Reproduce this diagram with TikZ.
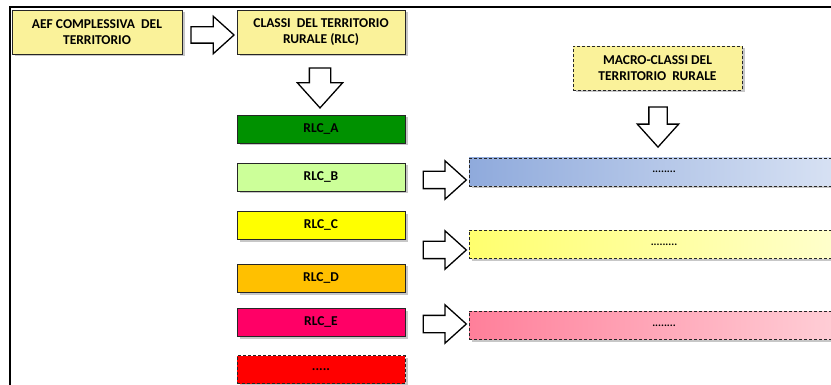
\documentclass[tikz,border=0pt]{standalone}
\usepackage{fontspec}
\setmainfont{Carlito}
\usetikzlibrary{shapes.arrows,shadows}
\definecolor{boxyellow}{HTML}{FAF29A}
\definecolor{rlcA}{HTML}{009100}
\definecolor{rlcB}{HTML}{CCFF99}
\definecolor{rlcC}{HTML}{FFFF00}
\definecolor{rlcD}{HTML}{FFC000}
\definecolor{rlcE}{HTML}{FF0066}
\definecolor{rlcX}{HTML}{FF0000}
\definecolor{blueL}{HTML}{8FAADC}
\definecolor{blueR}{HTML}{DCE5F5}
\definecolor{yelL}{HTML}{FFFF6E}
\definecolor{yelR}{HTML}{FFFFD2}
\definecolor{pinkL}{HTML}{FF7F9A}
\definecolor{pinkR}{HTML}{FFD3DA}

\begin{document}
\begin{tikzpicture}[x=1pt,y=-1pt,font=\bfseries\fontsize{13.5}{16}\selectfont,
  box/.style={draw=black!85,line width=0.8pt,align=center,inner sep=0pt,
    drop shadow={shadow xshift=2.5pt,shadow yshift=-2.5pt,fill=black!22,opacity=1}},
  titlebox/.style={box,fill=boxyellow,minimum width=169,minimum height=44},
  rlcbox/.style={box,minimum width=168,minimum height=28},
  macbox/.style={box,dash pattern=on 3pt off 2pt,minimum width=390,minimum height=28,
    font=\bfseries\fontsize{11}{12}\selectfont},
  blockarrow/.style={single arrow,draw=black,line width=1.3pt,fill=white,
    inner sep=0pt,minimum width=0pt,single arrow tip angle=84}]
  \clip (0,0) rectangle (831,385);
  \draw[line width=2pt] (9.5,385) -- (9.5,7) -- (831,7);

  % top row
  \node[titlebox,minimum width=170] (aef) at (97,32) {AEF COMPLESSIVA\ \ DEL\\TERRITORIO};
  \node[titlebox,minimum width=168] (cls) at (321,32) {CLASSI\ \ DEL TERRITORIO\\RURALE (RLC)};
  \node[titlebox,dash pattern=on 3pt off 2pt] (mac) at (657.5,68) {MACRO-CLASSI DEL\\TERRITORIO\ \ RURALE};

  % classes
  \foreach \n/\y/\c/\t in {A/129/rlcA/RLC\_A,B/177/rlcB/RLC\_B,C/225.5/rlcC/RLC\_C,
                           D/278/rlcD/RLC\_D,E/322/rlcE/RLC\_E} {
    \node[rlcbox,fill=\c] (rlc\n) at (321,\y) {\t};
  }
  \node[rlcbox,fill=rlcX,dash pattern=on 3pt off 2pt] (rlcX) at (321,369.5) {.....};

  % macro classes
  \node[macbox,left color=blueL,right color=blueR] (macB) at (664,172) {........};
  \node[macbox,left color=yelL,right color=yelR] (macC) at (664,244.5) {.........};
  \node[macbox,left color=pinkL,right color=pinkR] (macE) at (664,325.5) {........};

  % block arrows
  \node[blockarrow,inner ysep=7.5,single arrow head extend=10.5,minimum height=43] (arAC) at (208,35) {};
  \node[blockarrow,rotate=-90,inner ysep=10,single arrow head extend=12,minimum height=40] (arCR) at (320,82) {};
  \node[blockarrow,rotate=-90,inner ysep=8.5,single arrow head extend=11.5,minimum height=40] (arM) at (658,122) {};
  \foreach \y/\k in {180/B,250/C,324/E} {
    \node[blockarrow,inner ysep=8,single arrow head extend=10.5,minimum height=43] (ar\k) at (440,\y) {};
  }
\end{tikzpicture}
\end{document}
